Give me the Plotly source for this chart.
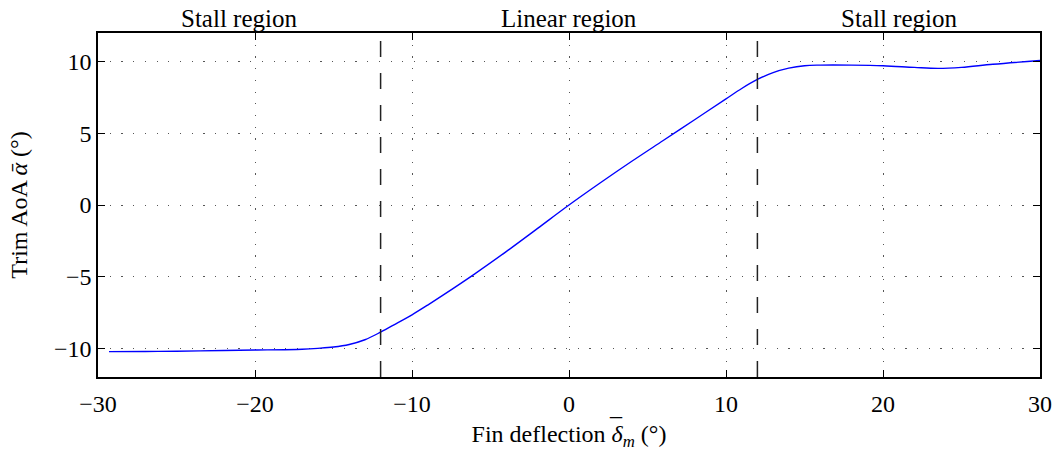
import plotly.graph_objects as go

# Trim angle of attack vs. fin deflection (degrees)
fin_deflection = [-29.3, -27, -25, -22, -20, -17, -16, -15, -14, -13, -12, -11, -10, -9, -8, -6, -4, -2,
                  0, 2, 4, 6, 8, 10, 11, 12, 13, 14, 15, 16, 18, 20, 22, 23.5, 25, 27, 30]
trim_aoa = [-10.23, -10.22, -10.2, -10.15, -10.12, -10.06, -10.0, -9.91, -9.73, -9.4, -8.87, -8.27,
            -7.66, -6.98, -6.27, -4.8, -3.25, -1.63, 0.0, 1.55, 3.05, 4.5, 5.95, 7.4, 8.13, 8.76,
            9.24, 9.55, 9.72, 9.76, 9.76, 9.72, 9.6, 9.53, 9.6, 9.82, 10.08]

region_bounds = [-12, 12]
region_labels = ["Stall region", "Linear region", "Stall region"]
region_centers = [-21, 0, 21]

x_ticks = [-30, -20, -10, 0, 10, 20, 30]
y_ticks = [-10, -5, 0, 5, 10]

FONT = "Liberation Serif, Times New Roman, serif"
FS = 24

fig = go.Figure()

fig.add_trace(go.Scatter(
    x=fin_deflection, y=trim_aoa, mode="lines",
    line=dict(color="#0000ff", width=1.4, shape="spline", smoothing=1.0),
    showlegend=False, hoverinfo="skip",
))

# dashed boundaries between linear and stall regions
for xb in region_bounds:
    fig.add_trace(go.Scatter(
        x=[xb, xb], y=[-12, 12], mode="lines",
        line=dict(color="#222222", width=1.5, dash="16px,16px"),
        showlegend=False, hoverinfo="skip",
    ))

for label, xc in zip(region_labels, region_centers):
    fig.add_annotation(
        x=xc, xref="x", y=1.0, yref="paper", yanchor="bottom", yshift=-1,
        text=label, showarrow=False,
        font=dict(family=FONT, size=25, color="black"),
    )

axis_common = dict(
    showline=True, linecolor="black", linewidth=1.5, mirror="ticks",
    ticks="inside", ticklen=7, tickwidth=1.2, tickcolor="black",
    showgrid=True, gridcolor="#555555", gridwidth=1, griddash="1.2px,10.5px",
    zeroline=False, automargin=False,
    tickfont=dict(family=FONT, size=FS, color="black"),
)

fig.update_xaxes(
    range=[-30, 30], tickvals=x_ticks, ticklabelstandoff=4,
    title=dict(text="Fin deflection <i>δ</i><sub><i>m</i></sub> (°)",
               font=dict(family=FONT, size=FS, color="black"), standoff=10),
    **axis_common,
)
fig.update_yaxes(
    range=[-12, 12], tickvals=y_ticks,
    title=dict(text="Trim AoA <i>ᾱ</i> (°)",
               font=dict(family=FONT, size=FS, color="black"), standoff=20),
    **axis_common,
)

# bar accent over the delta in the x-axis title
fig.add_annotation(
    x=0.5494, xref="paper", y=-0.146, yref="paper",
    xanchor="center", yanchor="middle",
    text="¯", showarrow=False,
    font=dict(family=FONT, size=FS, color="black"),
)

fig.update_layout(
    width=1056, height=459,
    margin=dict(l=98, r=16, t=33, b=82),
    paper_bgcolor="white", plot_bgcolor="white",
    font=dict(family=FONT, color="black"),
)

fig.write_html("out.html")
